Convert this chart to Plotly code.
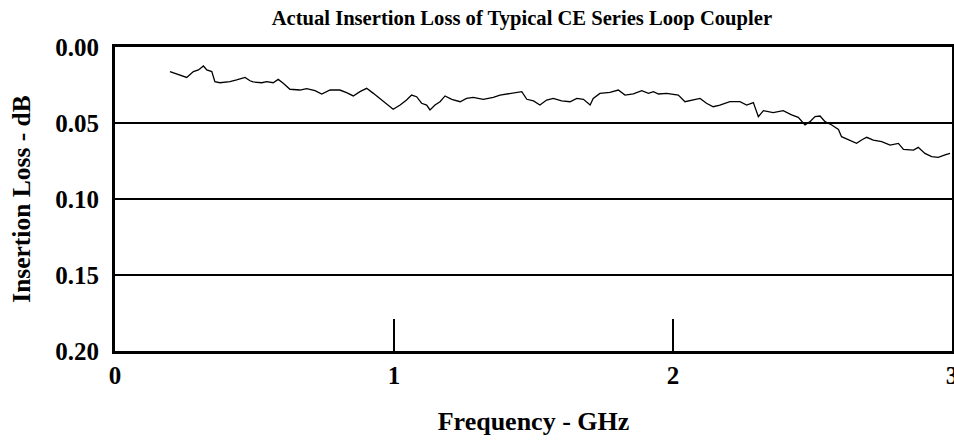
import plotly.graph_objects as go

freq_ghz = [0.197, 0.233, 0.257, 0.281, 0.299, 0.317, 0.329, 0.347, 0.358, 0.376, 0.412, 0.436,
            0.466, 0.484, 0.495, 0.526, 0.544, 0.567, 0.585, 0.603, 0.627, 0.663, 0.687, 0.717,
            0.741, 0.771, 0.806, 0.830, 0.854, 0.878, 0.902, 0.926, 0.956, 0.974, 0.997, 1.022,
            1.045, 1.063, 1.081, 1.099, 1.117, 1.129, 1.147, 1.165, 1.183, 1.207, 1.237, 1.260,
            1.284, 1.320, 1.356, 1.380, 1.410, 1.440, 1.458, 1.476, 1.500, 1.523, 1.547, 1.571,
            1.601, 1.631, 1.655, 1.679, 1.703, 1.714, 1.738, 1.774, 1.804, 1.828, 1.858, 1.888,
            1.912, 1.930, 1.948, 1.977, 2.019, 2.043, 2.073, 2.097, 2.120, 2.144, 2.168, 2.204,
            2.240, 2.264, 2.288, 2.306, 2.324, 2.359, 2.395, 2.425, 2.449, 2.473, 2.491, 2.509,
            2.527, 2.545, 2.569, 2.593, 2.604, 2.634, 2.658, 2.676, 2.694, 2.718, 2.748, 2.778,
            2.808, 2.826, 2.862, 2.879, 2.903, 2.927, 2.951, 2.975, 2.993]
loss_db = [0.0162, 0.0184, 0.0200, 0.0162, 0.0151, 0.0125, 0.0151, 0.0162, 0.0228, 0.0235, 0.0228, 0.0217,
           0.0200, 0.0222, 0.0230, 0.0235, 0.0228, 0.0235, 0.0213, 0.0239, 0.0278, 0.0283, 0.0274, 0.0287,
           0.0309, 0.0283, 0.0283, 0.0300, 0.0322, 0.0294, 0.0272, 0.0305, 0.0349, 0.0370, 0.0410, 0.0382,
           0.0349, 0.0316, 0.0327, 0.0370, 0.0382, 0.0414, 0.0382, 0.0360, 0.0322, 0.0344, 0.0360, 0.0338,
           0.0331, 0.0344, 0.0331, 0.0316, 0.0309, 0.0300, 0.0294, 0.0344, 0.0355, 0.0382, 0.0349, 0.0338,
           0.0355, 0.0360, 0.0338, 0.0344, 0.0382, 0.0338, 0.0305, 0.0298, 0.0283, 0.0316, 0.0309, 0.0287,
           0.0305, 0.0294, 0.0309, 0.0305, 0.0316, 0.0360, 0.0349, 0.0338, 0.0370, 0.0393, 0.0382, 0.0360,
           0.0360, 0.0382, 0.0366, 0.0458, 0.0419, 0.0432, 0.0419, 0.0447, 0.0463, 0.0513, 0.0491, 0.0458,
           0.0454, 0.0491, 0.0513, 0.0542, 0.0590, 0.0616, 0.0634, 0.0612, 0.0594, 0.0612, 0.0623, 0.0645,
           0.0634, 0.0673, 0.0678, 0.0660, 0.0700, 0.0721, 0.0726, 0.0710, 0.0700]

x_ticks = [0, 1, 2, 3]
y_ticks = [0.00, 0.05, 0.10, 0.15, 0.20]
y_tick_text = ["0.00", "0.05", "0.10", "0.15", "0.20"]

FONT = "Liberation Serif"

fig = go.Figure()
fig.add_trace(go.Scatter(x=freq_ghz, y=loss_db, mode="lines",
                         line=dict(color="black", width=1.3), showlegend=False))

fig.update_layout(
    template="none",
    width=954, height=440,
    margin=dict(l=115, r=2, t=47, b=89),
    paper_bgcolor="white", plot_bgcolor="white",
    font=dict(family=FONT, color="black", weight="bold"),
    title=dict(text="Actual Insertion Loss of Typical CE Series Loop Coupler",
               x=0.547, xanchor="center", y=0.959, yanchor="middle",
               font=dict(family=FONT, size=20.6, color="black", weight="bold")),
)
fig.update_xaxes(
    range=[0, 3], tickvals=x_ticks, ticktext=[str(v) for v in x_ticks],
    ticks="inside", ticklen=32, tickwidth=2, tickcolor="black",
    showgrid=False, zeroline=False,
    showline=True, linewidth=3, linecolor="black", mirror=True,
    tickfont=dict(family=FONT, size=25, weight="bold"),
    ticklabeloverflow="allow",
    automargin=False,
    title=dict(text="Frequency - GHz", standoff=24,
               font=dict(family=FONT, size=26, weight="bold")),
)
fig.update_yaxes(
    range=[0.20, 0.00], tickvals=y_ticks, ticktext=y_tick_text,
    ticks="", showgrid=True, gridcolor="black", gridwidth=2, zeroline=False,
    showline=True, linewidth=3, linecolor="black", mirror=True,
    tickfont=dict(family=FONT, size=25, weight="bold"),
    ticklabelstandoff=8,
    automargin=False,
    title=dict(text="Insertion Loss - dB", standoff=18,
               font=dict(family=FONT, size=25.5, weight="bold")),
)

fig.write_html("out.html", config={"displayModeBar": False},
               post_script="document.body.style.margin='0';document.body.style.overflow='hidden';")
